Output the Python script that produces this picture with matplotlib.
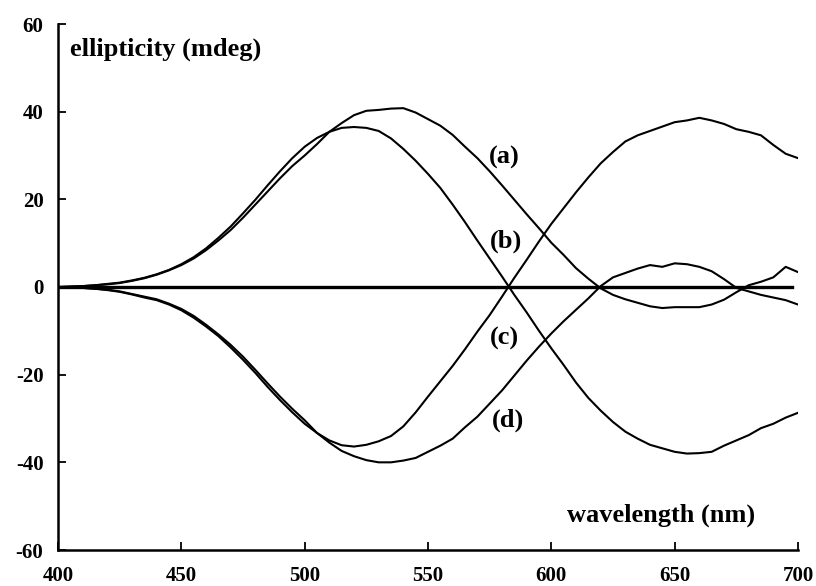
import numpy as np
import matplotlib
matplotlib.use("Agg")
import matplotlib.pyplot as plt

# Wavelength grid (nm) shared by all four spectra
wavelength = np.arange(400, 701, 5)

# CD spectra, ellipticity in mdeg
curve_a = [0.0, 0.1, 0.2, 0.4, 0.6, 0.9, 1.4, 2.0, 2.8, 3.8,
           5.0, 6.5, 8.4, 10.6, 13.0, 15.8, 18.8, 21.8, 24.8, 27.6,
           30.0, 32.6, 35.4, 37.4, 39.2, 40.2, 40.4, 40.7, 40.8, 39.8,
           38.3, 36.8, 34.7, 32.0, 29.4, 26.4, 23.2, 19.9, 16.6, 13.4,
           10.1, 7.3, 4.3, 1.9, -0.3, -1.8, -2.8, -3.6, -4.4, -4.8,
           -4.6, -4.6, -4.6, -4.0, -2.9, -1.2, 0.4, 1.2, 2.2, 4.6,
           3.4]

curve_b = [0.0, 0.1, 0.2, 0.4, 0.7, 1.0, 1.5, 2.1, 2.9, 3.9,
           5.2, 6.8, 8.8, 11.2, 13.8, 16.8, 19.9, 23.2, 26.4, 29.4,
           32.0, 34.0, 35.4, 36.3, 36.5, 36.3, 35.6, 33.9, 31.5, 28.8,
           25.8, 22.6, 18.8, 14.8, 10.6, 6.5, 2.4, -1.8, -5.8, -10.0,
           -14.0, -17.8, -21.8, -25.3, -28.2, -30.8, -33.0, -34.6, -36.0, -36.8,
           -37.6, -38.0, -37.9, -37.6, -36.2, -35.0, -33.8, -32.2, -31.2, -29.8,
           -28.7]

curve_c = [0.0, -0.1, -0.2, -0.4, -0.7, -1.1, -1.7, -2.4, -3.0, -4.0,
           -5.3, -7.0, -9.0, -11.2, -13.8, -16.6, -19.6, -22.8, -25.8, -28.6,
           -31.2, -33.3, -35.0, -36.1, -36.4, -36.0, -35.2, -34.0, -31.8, -28.6,
           -25.0, -21.5, -18.0, -14.2, -10.2, -6.4, -2.2, 2.1, 6.2, 10.4,
           14.4, 18.0, 21.6, 25.0, 28.2, 30.8, 33.2, 34.6, 35.6, 36.6,
           37.6, 38.0, 38.6, 38.0, 37.2, 36.0, 35.4, 34.6, 32.4, 30.4,
           29.4]

curve_d = [0.0, -0.1, -0.2, -0.4, -0.6, -1.0, -1.6, -2.2, -2.8, -3.8,
           -5.0, -6.6, -8.6, -10.8, -13.2, -15.9, -18.9, -22.0, -25.0, -27.8,
           -30.4, -33.3, -35.5, -37.4, -38.6, -39.5, -40.0, -40.0, -39.6, -39.0,
           -37.6, -36.2, -34.6, -32.0, -29.6, -26.6, -23.6, -20.2, -16.8, -13.6,
           -10.6, -7.8, -5.2, -2.6, 0.2, 2.2, 3.2, 4.2, 5.0, 4.6,
           5.4, 5.2, 4.6, 3.6, 1.8, -0.2, -1.0, -1.8, -2.4, -3.0,
           -4.0]

baseline_x = [400, 697.5]
baseline_y = [0, 0]

labels = ["(a)", "(b)", "(c)", "(d)"]
label_x = [574.5, 575.2, 575.2, 576.0]
label_y = [28.2, 9.1, -13.2, -31.9]

xticks = [400, 450, 500, 550, 600, 650, 700]
yticks = [-60, -40, -20, 0, 20, 40, 60]

serif = "Liberation Serif"

fig = plt.figure(figsize=(8.16, 5.86), dpi=100)
ax = fig.add_axes([58 / 816, 36 / 586, 740 / 816, 526 / 586])

for y in (curve_a, curve_b, curve_c, curve_d):
    ax.plot(wavelength, y, color="black", lw=1.5, solid_joinstyle="round")
ax.plot(baseline_x, baseline_y, color="black", lw=2.4)

ax.set_xlim(400, 700)
ax.set_ylim(-60, 60)
ax.spines["top"].set_visible(False)
ax.spines["right"].set_visible(False)
ax.spines["left"].set_linewidth(1.8)
ax.spines["bottom"].set_linewidth(1.8)

ax.set_xticks(xticks)
ax.set_yticks(yticks)
ax.set_xticklabels([str(t) for t in xticks])
ax.set_yticklabels([str(t) for t in yticks])
ax.tick_params(axis="both", direction="in", length=6, width=1.3,
               labelsize=15)
ax.tick_params(axis="x", pad=11.5)
ax.tick_params(axis="y", pad=10.5)
for lab in ax.get_xticklabels() + ax.get_yticklabels():
    lab.set_fontfamily(serif)
    lab.set_fontweight("bold")

ax.text(404.9, 52.8, "ellipticity (mdeg)", fontsize=19, fontweight="bold",
        family=serif, ha="left", va="baseline")
ax.text(606.4, -53.5, "wavelength (nm)", fontsize=19, fontweight="bold",
        family=serif, ha="left", va="baseline")

for s, x, y in zip(labels, label_x, label_y):
    ax.text(x, y, s, fontsize=19, fontweight="bold", family=serif,
            ha="left", va="baseline")

fig.savefig("out.png", dpi=100)
